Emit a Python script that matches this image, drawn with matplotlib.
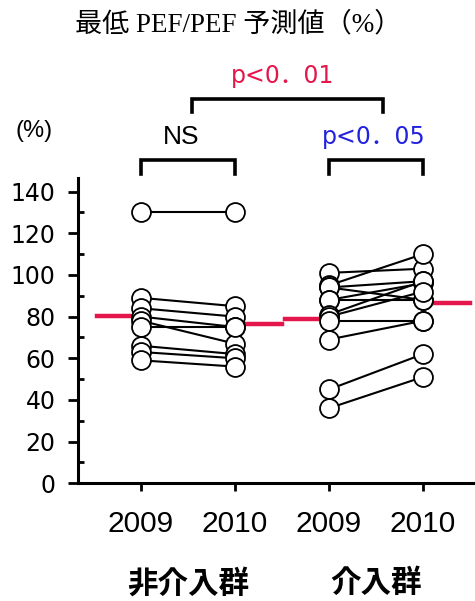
import matplotlib
matplotlib.use("Agg")
import matplotlib.pyplot as plt
import numpy as np

# Lowest PEF / predicted PEF (%) per patient, 2009 vs 2010
groups = ["非介入群", "介入群"]
years = ["2009", "2010"]

non_int_2009 = [130, 89, 84, 80, 78, 75, 66, 63, 59]
non_int_2010 = [130, 85, 80, 75, 67, 75, 62, 60, 56]

int_2009 = [101, 95, 94, 94, 88, 88, 81, 80, 78, 69, 45, 36]
int_2010 = [103, 110, 97, 88, 96, 88, 97, 92, 78, 78, 62, 51]

y_ticks = [0, 20, 40, 60, 80, 100, 120, 140]

title = "最低 PEF/PEF 予測値（%）"
unit_label = "(%)"
sig_within = ["NS", "p<0．05"]
sig_between = "p<0．01"

RED = "#e3174c"
BLUE = "#2222dd"
SANS = ["Liberation Sans", "DejaVu Sans"]
SIG_FONT = ["DejaVu Sans", "Noto Sans CJK JP"]

fig = plt.figure(figsize=(4.75, 6.01), dpi=100)
ax = fig.add_axes([0.164, 0.196, 0.836, 0.508])

series = [(non_int_2009, non_int_2010, 0.0), (int_2009, int_2010, 2.0)]

for before, after, x0 in series:
    xs = [x0, x0 + 1]
    for a, b in zip(before, after):
        ax.plot(xs, [a, b], color="black", lw=1.5, zorder=2, solid_capstyle="round")
    ax.scatter([x0] * len(before), before, s=185, facecolor="white",
               edgecolor="black", linewidth=1.3, zorder=3)
    ax.scatter([x0 + 1] * len(after), after, s=185, facecolor="white",
               edgecolor="black", linewidth=1.3, zorder=3)
    # group means as red reference segments
    m0, m1 = np.mean(before), np.mean(after)
    ax.plot([x0 - 0.47, x0], [m0, m0], color=RED, lw=3.2, zorder=1)
    ax.plot([x0 + 1, x0 + 1.5], [m1, m1], color=RED, lw=3.2, zorder=1)

ax.set_xlim(-0.67, 3.553)
ax.set_ylim(0, 146.6)

ax.spines["top"].set_visible(False)
ax.spines["right"].set_visible(False)
ax.spines["left"].set_linewidth(2.2)
ax.spines["bottom"].set_linewidth(2.2)

ax.set_yticks(y_ticks)
ax.set_yticks(np.arange(10, 150, 20), minor=True)
ax.set_yticklabels([str(v) for v in y_ticks], fontsize=17, family="DejaVu Sans")
ax.tick_params(axis="y", which="major", direction="out", length=7, width=2, pad=9)
ax.tick_params(axis="y", which="minor", direction="in", length=4, width=2)

ax.set_xticks([0, 1, 2, 3])
ax.set_xticklabels(years * 2, fontsize=21.5, family=SANS)
ax.tick_params(axis="x", which="major", direction="out", length=6, width=2, pad=13)

xt = ax.get_xaxis_transform()
for g, xc in zip(groups, [0.5, 2.5]):
    ax.text(xc, -0.328, g, transform=xt, ha="center", va="center",
            fontsize=22, fontweight="bold", family=["Noto Sans CJK JP"])

# significance brackets
def bracket(x1, x2, y_top, y_leg):
    ax.plot([x1, x1, x2, x2], [y_leg, y_top, y_top, y_leg], color="black",
            lw=2.6, clip_on=False, solid_joinstyle="miter")

bracket(0, 1, 155.3, 148.6)
bracket(2, 3, 155.3, 148.6)
bracket(0.54, 2.57, 184.6, 178.2)

ax.text(0.43, 166, sig_within[0], ha="center", va="center", fontsize=19,
        family=SANS, clip_on=False)
ax.text(2.48, 166, sig_within[1], ha="center", va="center", fontsize=17,
        color=BLUE, family=SIG_FONT, clip_on=False)
ax.text(1.51, 195.5, sig_between, ha="center", va="center", fontsize=17,
        color=RED, family=SIG_FONT, clip_on=False)

fig.text(34 / 475, 1 - 131 / 601, unit_label, ha="center", va="center",
         fontsize=17, family=SANS)

fig.text(238 / 475, 1 - 25 / 601, title, ha="center", va="center",
         fontsize=19.5, family=["Liberation Serif", "Noto Sans CJK JP"])

fig.savefig("out.png", dpi=100, facecolor="white")
